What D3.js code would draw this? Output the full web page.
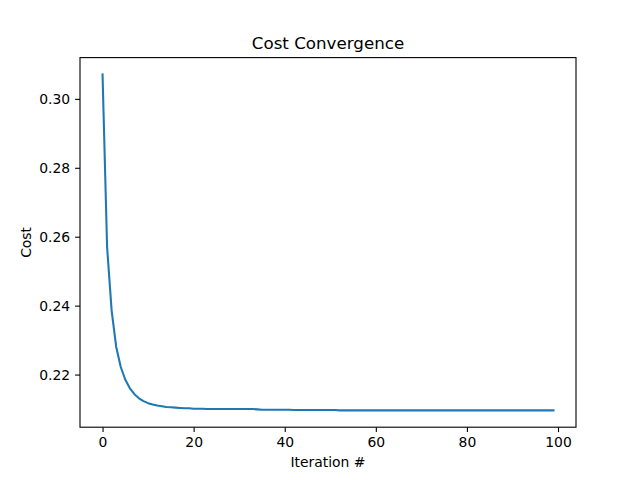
<!DOCTYPE html>
<html>
<head>
<meta charset="utf-8">
<script src="https://cdn.jsdelivr.net/npm/d3@7"></script>
<style>
  body { margin: 0; background: #fff; }
  text { font-family: "DejaVu Sans", sans-serif; }
</style>
</head>
<body>
<div id="chart"></div>
<script>
// Cost per iteration
const cost = [
  0.3071, 0.2570, 0.2385, 0.2280, 0.2222, 0.2185, 0.2160, 0.2143, 0.2131, 0.2123,
  0.2117, 0.2113, 0.2110, 0.2108, 0.2106, 0.2105, 0.2104, 0.2103, 0.2102, 0.2102,
  0.2101, 0.2101, 0.2101, 0.2100, 0.2100, 0.2100, 0.2100, 0.2100, 0.2100, 0.2100,
  0.2100, 0.2100, 0.2100, 0.2100, 0.2099, 0.2098, 0.2098, 0.2098, 0.2098, 0.2098,
  0.2098, 0.2098, 0.2097, 0.2097, 0.2097, 0.2097, 0.2097, 0.2097, 0.2097, 0.2097,
  0.2097, 0.2097, 0.2096, 0.2096, 0.2096, 0.2096, 0.2096, 0.2096, 0.2096, 0.2096,
  0.2096, 0.2096, 0.2096, 0.2096, 0.2096, 0.2096, 0.2096, 0.2096, 0.2096, 0.2096,
  0.2096, 0.2096, 0.2096, 0.2096, 0.2096, 0.2096, 0.2096, 0.2096, 0.2096, 0.2096,
  0.2096, 0.2096, 0.2096, 0.2096, 0.2096, 0.2096, 0.2096, 0.2096, 0.2096, 0.2096,
  0.2096, 0.2096, 0.2096, 0.2096, 0.2096, 0.2096, 0.2096, 0.2096, 0.2096, 0.2096
];
const xTicks = [0, 20, 40, 60, 80, 100];
const yTicks = [0.22, 0.24, 0.26, 0.28, 0.30];

const width = 640;
const height = 480;
const marginTop = 57.6;
const marginRight = 64;
const marginBottom = 52.8;
const marginLeft = 80;

const svg = d3.select("#chart")
  .append("svg")
    .attr("width", width)
    .attr("height", height)
    .attr("viewBox", [0, 0, width, height]);

// matplotlib-like 5% padding
const n = cost.length;
const xPad = (n - 1) * 0.05;
const yMin = d3.min(cost), yMax = d3.max(cost);
const yPad = (yMax - yMin) * 0.05;

const x = d3.scaleLinear()
    .domain([-xPad, n - 1 + xPad])
    .range([marginLeft, width - marginRight]);

const y = d3.scaleLinear()
    .domain([yMin - yPad, yMax + yPad])
    .range([height - marginBottom, marginTop]);

// Axes
svg.append("g")
    .attr("transform", `translate(0,${height - marginBottom})`)
    .call(d3.axisBottom(x).tickValues(xTicks).tickSize(4.9).tickPadding(4.9).tickFormat(d3.format("d")))
    .call(g => g.select(".domain").remove())
    .call(g => g.selectAll("line").attr("stroke", "#000").attr("stroke-width", 1.1))
    .call(g => g.selectAll("text").attr("fill", "#000").style("font-size", "13.9px").style("font-family", "DejaVu Sans"));

svg.append("g")
    .attr("transform", `translate(${marginLeft},0)`)
    .call(d3.axisLeft(y).tickValues(yTicks).tickSize(4.9).tickPadding(4.9).tickFormat(d3.format(".2f")))
    .call(g => g.select(".domain").remove())
    .call(g => g.selectAll("line").attr("stroke", "#000").attr("stroke-width", 1.1))
    .call(g => g.selectAll("text").attr("fill", "#000").style("font-size", "13.9px").style("font-family", "DejaVu Sans"));

// Line
const line = d3.line()
    .x((d, i) => x(i))
    .y(d => y(d));

svg.append("path")
    .datum(cost)
    .attr("fill", "none")
    .attr("stroke", "#1f77b4")
    .attr("stroke-width", 2.08)
    .attr("stroke-linejoin", "round")
    .attr("stroke-linecap", "square")
    .attr("d", line);

// Frame
svg.append("rect")
    .attr("x", marginLeft)
    .attr("y", marginTop)
    .attr("width", width - marginLeft - marginRight)
    .attr("height", height - marginTop - marginBottom)
    .attr("fill", "none")
    .attr("stroke", "#000")
    .attr("stroke-width", 1.1);

// Labels
svg.append("text")
    .attr("x", (marginLeft + width - marginRight) / 2)
    .attr("y", marginTop - 8.5)
    .attr("text-anchor", "middle")
    .style("font-size", "16.7px")
    .text("Cost Convergence");

svg.append("text")
    .attr("x", (marginLeft + width - marginRight) / 2)
    .attr("y", 467)
    .attr("text-anchor", "middle")
    .style("font-size", "13.9px")
    .text("Iteration #");

svg.append("text")
    .attr("transform", `translate(31,${(marginTop + height - marginBottom) / 2}) rotate(-90)`)
    .attr("text-anchor", "middle")
    .style("font-size", "13.9px")
    .text("Cost");
</script>
</body>
</html>
